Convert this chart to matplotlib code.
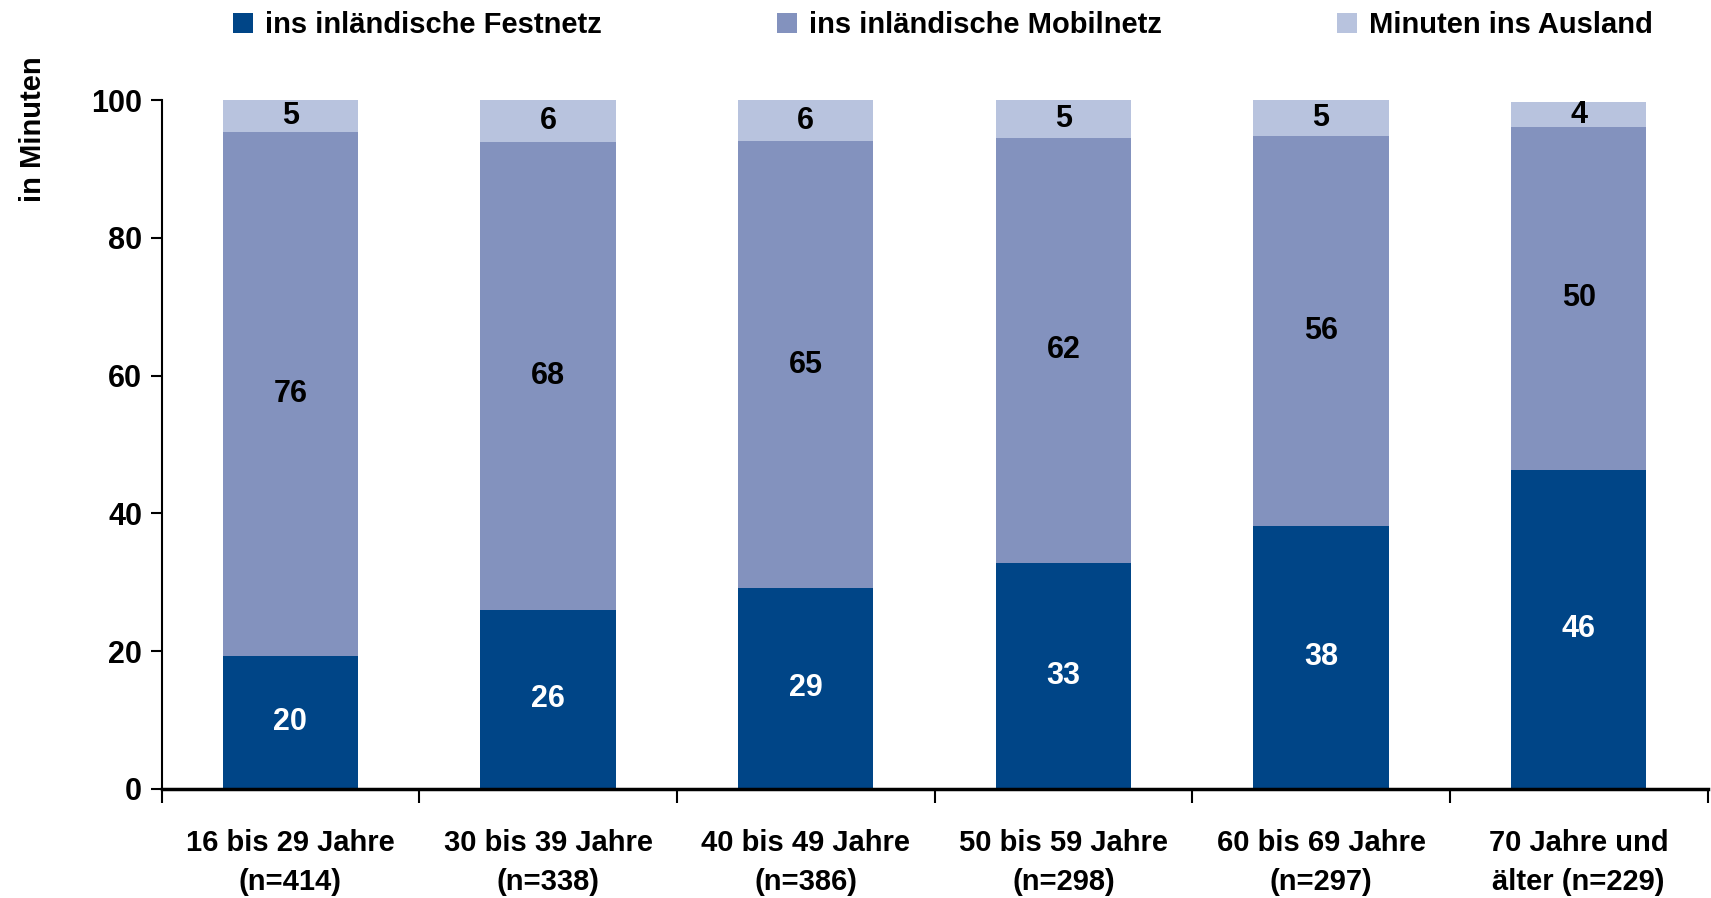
import matplotlib
matplotlib.use("Agg")
import matplotlib.pyplot as plt
from matplotlib import font_manager
from matplotlib.patches import Patch
import numpy as np

# Values (segment heights), plus the printed labels
categories = ["16 bis 29 Jahre\n(n=414)", "30 bis 39 Jahre\n(n=338)", "40 bis 49 Jahre\n(n=386)",
              "50 bis 59 Jahre\n(n=298)", "60 bis 69 Jahre\n(n=297)", "70 Jahre und\nälter (n=229)"]
festnetz = [19.3, 26.0, 29.2, 32.8, 38.2, 46.3]
mobilnetz = [76.1, 67.9, 64.8, 61.7, 56.6, 49.8]
ausland = [4.6, 6.1, 6.0, 5.5, 5.2, 3.6]
festnetz_labels = [20, 26, 29, 33, 38, 46]
mobilnetz_labels = [76, 68, 65, 62, 56, 50]
ausland_labels = [5, 6, 6, 5, 5, 4]
series_names = ["ins inländische Festnetz", "ins inländische Mobilnetz", "Minuten ins Ausland"]
colors = ["#004587", "#8392BE", "#B8C3DE"]

available = {f.name for f in font_manager.fontManager.ttflist}
family = "Liberation Sans Narrow" if "Liberation Sans Narrow" in available else "Liberation Sans"
plt.rcParams["font.family"] = [family, "DejaVu Sans"]
plt.rcParams["font.weight"] = "bold"

fig = plt.figure(figsize=(17.11, 8.98), dpi=100)
ax = fig.add_axes([0.0944, 0.1214, 0.9036, 0.7672])

x = np.arange(len(categories))
width = 0.525
fest = np.array(festnetz)
mob = np.array(mobilnetz)
aus = np.array(ausland)

ax.bar(x, fest, width, color=colors[0], label=series_names[0])
ax.bar(x, mob, width, bottom=fest, color=colors[1], label=series_names[1])
ax.bar(x, aus, width, bottom=fest + mob, color=colors[2], label=series_names[2])

fs = 21
nfs = 22
for i in range(len(x)):
    ax.text(x[i], fest[i] / 2, str(festnetz_labels[i]), ha="center", va="center",
            color="white", fontsize=nfs, fontweight="bold")
    ax.text(x[i], fest[i] + mob[i] / 2, str(mobilnetz_labels[i]), ha="center", va="center",
            color="black", fontsize=nfs, fontweight="bold")
    ax.text(x[i], fest[i] + mob[i] + aus[i] / 2, str(ausland_labels[i]), ha="center", va="center",
            color="black", fontsize=nfs, fontweight="bold")

ax.set_xlim(-0.5, len(categories) - 0.5)
ax.set_ylim(0, 100)
ax.set_yticks([0, 20, 40, 60, 80, 100])
ax.tick_params(axis="y", labelsize=nfs, length=8, width=1.5, pad=6, direction="out")
for lab in ax.get_yticklabels():
    lab.set_fontweight("bold")

# category ticks sit between the bars
ax.set_xticks(np.arange(len(categories) + 1) - 0.5)
ax.set_xticklabels([])
ax.tick_params(axis="x", which="major", length=10, width=1.5, direction="out")
ax.set_xticks(x, minor=True)
ax.set_xticklabels(categories, minor=True, fontsize=fs, fontweight="bold", linespacing=1.5)
ax.tick_params(axis="x", which="minor", length=0, pad=29)

for side in ["top", "right"]:
    ax.spines[side].set_visible(False)
ax.spines["left"].set_linewidth(1.5)
ax.spines["bottom"].set_linewidth(2.5)

fig.text(0.0193, 0.856, "in Minuten", rotation=90, ha="center", va="center",
         fontsize=fs, fontweight="bold")

handles = [Patch(facecolor=c, edgecolor="none") for c in colors]
fig.legend(handles, series_names, loc="center", bbox_to_anchor=(0.551, 0.972), ncol=3,
           frameon=False, handlelength=0.7, handleheight=0.7, handletextpad=0.4,
           columnspacing=6.0, prop={"weight": "bold", "size": fs})

fig.savefig("out.png", dpi=100)
